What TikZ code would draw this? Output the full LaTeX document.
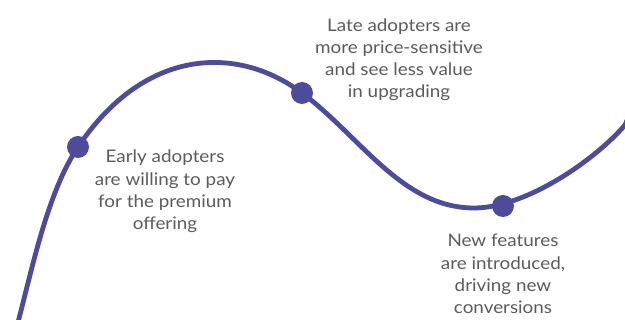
\documentclass[tikz,border=0pt]{standalone}
\usepackage{fontspec}
\setmainfont{Lato}[FakeStretch=1.09]
\definecolor{curvecol}{HTML}{4F4B9B}
\definecolor{txtcol}{HTML}{5B5B5B}
\tikzset{
  curveline/.style={draw=curvecol, line width=4.8pt},
  dotmark/.style={circle, fill=curvecol, minimum size=22pt, inner sep=0pt},
  label/.style={text=txtcol, align=center, font=\fontsize{17.3}{22.3}\selectfont, inner sep=0pt}
}
\begin{document}
\begin{tikzpicture}[x=1pt,y=-1pt]
\useasboundingbox (0,0) rectangle (625,320);
\clip (0,0) rectangle (625,320);
\coordinate (s) at (16,330);
\coordinate (mn) at (474,208);
\coordinate (e) at (636,100);
\coordinate (p1) at (78,147);
\coordinate (p2) at (302,93);
\coordinate (p3) at (503,206);
\draw[curveline] (s) .. controls (32,270) and (47,193) .. (p1)
  .. controls (145,47) and (238,45) .. (p2)
  .. controls (360,136) and (402,208) .. (mn)
  .. controls (526,208) and (595,160) .. (625,125) -- (e);
\node[dotmark] (d1) at (p1) {};
\node[dotmark] (d2) at (p2) {};
\node[dotmark] (d3) at (p3) {};
\node[label] (t1) at (165,191.5) {Early adopters\\are willing to pay\\for the premium\\offering};
\node[label] (t2) at (399,59.7) {Late adopters are\\more price-sensitive\\and see less value\\in upgrading};
\node[label] (t3) at (503,274) {New features\\are introduced,\\driving new\\conversions};
\end{tikzpicture}
\end{document}
